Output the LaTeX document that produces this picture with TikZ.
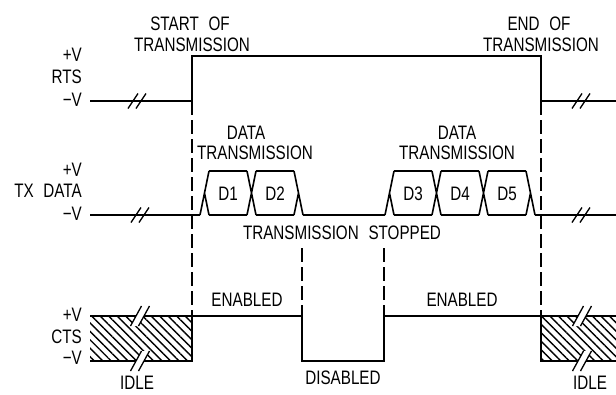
\documentclass[tikz,border=0pt]{standalone}
\usepackage{fontspec}
\setmainfont[FakeStretch=0.78]{Liberation Sans}
\usepackage{tikz}
\usetikzlibrary{patterns.meta}
\newcommand{\wsp}{\hspace{0.5em}}

\begin{document}
\begin{tikzpicture}[x=1pt,y=-1pt,
  lbl/.style={font=\fontsize{19.5}{21}\selectfont,inner sep=0pt},
  sig/.style={line width=1.6pt},
  guide/.style={line width=1.4pt,dash pattern=on 14pt off 5pt},
  brk/.style={line width=1.3pt},
  hatch/.style={pattern={Lines[angle=-45,distance=6pt,line width=1.4pt]}}]
\useasboundingbox (0,0) rectangle (616,394);
% level labels
\node[lbl,anchor=east] (rtshi) at (82,55){+V};
\node[lbl,anchor=east] (rts) at (82,77){RTS};
\node[lbl,anchor=east] (rtslo) at (82,100){−V};
\node[lbl,anchor=east] (txhi) at (82,170){+V};
\node[lbl,anchor=east] (tx) at (82,191){TX\wsp DATA};
\node[lbl,anchor=east] (txlo) at (82,214){−V};
\node[lbl,anchor=east] (ctshi) at (82,315){+V};
\node[lbl,anchor=east] (cts) at (82,337){CTS};
\node[lbl,anchor=east] (ctslo) at (82,358){−V};
% RTS
\draw[sig] (90,101)--(192,101)--(192,56)--(541,56)--(541,101)--(616,101);
\node[lbl] (start1) at (190,24){START\wsp OF};
\node[lbl] (start2) at (192,45){TRANSMISSION};
\node[lbl] (end1) at (539,24){END\wsp OF};
\node[lbl] (end2) at (541,45){TRANSMISSION};
% guides
\draw[guide] (192,101)--(192,316);
\draw[guide] (541,101)--(541,316);
\draw[guide] (302,248)--(302,316);
\draw[guide] (384,248)--(384,316);
% TX DATA
\draw[sig] (90,215)--(200,215) (303,215)--(385,215) (535,215)--(616,215);
\foreach \s in {200,247,385,432,479}{
  \draw[sig] (\s+9,171)--(\s+47,171) (\s+9,215)--(\s+47,215);}
\foreach \t in {200,385}{
  \draw[sig] (\t,215)--(\t+9,171) (\t+4.5,193)--(\t+9,215);}
\foreach \t in {247,432,479}{
  \draw[sig] (\t,171)--(\t+9,215) (\t,215)--(\t+9,171);}
\foreach \t in {294,526}{
  \draw[sig] (\t,171)--(\t+9,215) (\t,215)--(\t+4.5,193);}
\foreach \n/\c in {1/228,2/275,3/413,4/460,5/507}
  \node[lbl] (d\n) at (\c,194){D\n};
\node[lbl] (data1) at (246,133){DATA};
\node[lbl] (trans1) at (255,153){TRANSMISSION};
\node[lbl] (data2) at (457,133){DATA};
\node[lbl] (trans2) at (457,153){TRANSMISSION};
\node[lbl] (stopped) at (342,233){TRANSMISSION\wsp STOPPED};
% CTS
\fill[hatch] (90,316) rectangle (192,361);
\fill[hatch] (541,316) rectangle (616,361);
\draw[sig] (90,316)--(192,316)--(302,316)--(302,361)--(384,361)--(384,316)--(541,316)--(616,316);
\draw[sig] (90,361)--(192,361)--(192,316);
\draw[sig] (616,361)--(541,361)--(541,316);
\node[lbl] (en1) at (247,300){ENABLED};
\node[lbl] (en2) at (462,300){ENABLED};
\node[lbl] (dis) at (343,378){DISABLED};
\node[lbl] (idle1) at (137,383){IDLE};
\node[lbl] (idle2) at (590,383){IDLE};
% breaks
\foreach \x/\y in {137/101,140/215,581/101,581/215}{
  \draw[brk] (\x-9,\y+7.5)--(\x+1,\y-7.5) (\x-1,\y+7.5)--(\x+9,\y-7.5);}
\foreach \x/\y in {140/316,140/361,582/316,582/361}{
  \fill[white] (\x-9.5,\y+10)--(\x+1.5,\y-10)--(\x+9.5,\y-10)--(\x-1.5,\y+10)--cycle;
  \draw[brk] (\x-9.5,\y+10)--(\x+1.5,\y-10) (\x-1.5,\y+10)--(\x+9.5,\y-10);}
\end{tikzpicture}
\end{document}
